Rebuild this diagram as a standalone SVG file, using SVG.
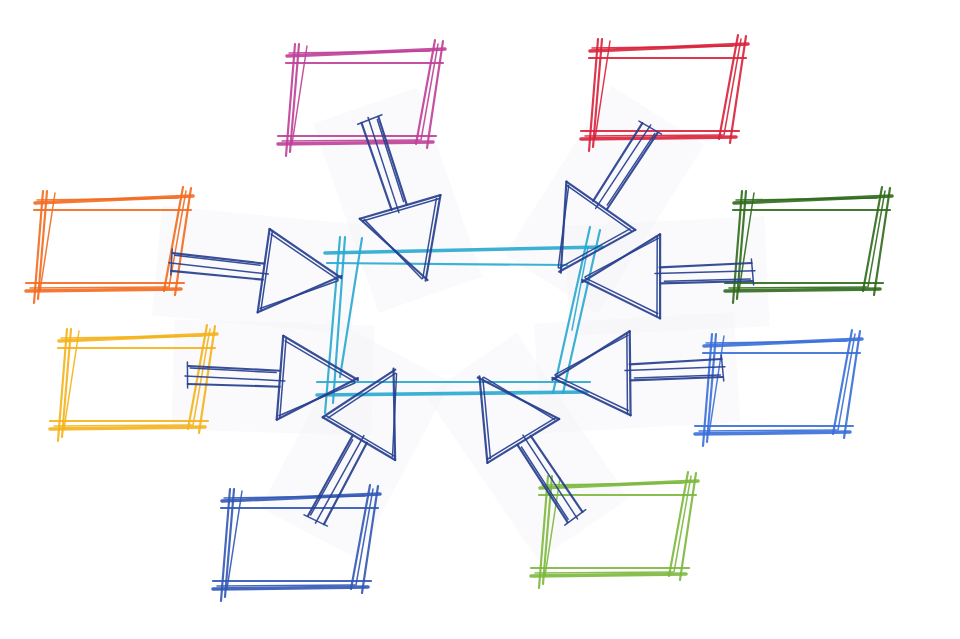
<svg xmlns="http://www.w3.org/2000/svg" xmlns:xlink="http://www.w3.org/1999/xlink" width="960" height="639" viewBox="0 0 960 639">
<style>
  .bx path { fill: none; stroke: currentColor; stroke-linecap: round; opacity: 0.9; }
  .w1 { stroke-width: 3.6; }
  .w2 { stroke-width: 2.2; }
  .w3 { stroke-width: 1.5; }
  .ar path { fill: none; stroke: #27408f; stroke-linecap: round; opacity: 0.92; }
  .patch { fill: #f3f4f8; opacity: 0.45; }
</style>
<defs>
  <g id="box" class="bx">
    <path class="w1" d="M7,16 L165,9"/>
    <path class="w3" d="M9,13 L150,11"/>
    <path class="w2" d="M6,23 L163,23"/>
    <path class="w2" d="M-2,96 L156,96"/>
    <path class="w1" d="M-2,104 L153,102"/>
    <path class="w3" d="M2,101 L140,100"/>
    <path class="w2" d="M15,4 L6,116"/>
    <path class="w2" d="M19,4 L10,112"/>
    <path class="w3" d="M27,6 L12,104"/>
    <path class="w2" d="M155,0 L136,104"/>
    <path class="w2" d="M163,1 L147,108"/>
    <path class="w3" d="M158,4 L141,100"/>
  </g>
  <g id="arrow" class="ar">
    <path class="w2" d="M0,-9 L92,-7"/>
    <path class="w3" d="M2,-7 L88,-5"/>
    <path class="w2" d="M0,9 L92,9"/>
    <path class="w3" d="M-3,1 L97,3"/>
    <path class="w3" d="M-1,-13 L0,13"/>
    <path class="w2" d="M94,-42 L90,42"/>
    <path class="w3" d="M97,-40 L93,40"/>
    <path class="w2" d="M94,-42 L170,0"/>
    <path class="w3" d="M96,-37 L167,2"/>
    <path class="w2" d="M90,42 L170,-2"/>
    <path class="w3" d="M92,38 L167,3"/>
  </g>
  <polygon id="patch" class="patch" points="-15,-55 185,-55 185,55 -15,55"/>
</defs>
<rect width="960" height="639" fill="#ffffff"/>
<g id="patches">
  <use xlink:href="#patch" transform="translate(172,262) rotate(5.4)"/>
  <use xlink:href="#patch" transform="translate(370,120) rotate(70.9)"/>
  <use xlink:href="#patch" transform="translate(650,128) rotate(122.3)"/>
  <use xlink:href="#patch" transform="translate(752,272) rotate(177.3)"/>
  <use xlink:href="#patch" transform="translate(188,375) rotate(1.7)"/>
  <use xlink:href="#patch" transform="translate(722,368) rotate(176.7)"/>
  <use xlink:href="#patch" transform="translate(316,520) rotate(-62.2)"/>
  <use xlink:href="#patch" transform="translate(575,517) rotate(-124.2)"/>
</g>
<g id="center" class="bx" style="color:#27a9cf">
  <path class="w1" d="M325,253 L602,247"/>
  <path class="w2" d="M327,263 L567,265"/>
  <path class="w2" d="M317,382 L590,382"/>
  <path class="w1" d="M317,395 L587,392"/>
  <path class="w2" d="M340,237 L325,413"/>
  <path class="w2" d="M345,237 L333,403"/>
  <path class="w2" d="M362,238 L340,377"/>
  <path class="w2" d="M590,227 L553,393"/>
  <path class="w2" d="M600,230 L563,393"/>
  <path class="w3" d="M588,247 L572,330"/>
</g>
<g id="node-pink" style="color:#bf3f97"><use xlink:href="#box" transform="translate(280,40)"/></g>
<g id="node-red" style="color:#d9213b"><use xlink:href="#box" transform="translate(583,35)"/></g>
<g id="node-orange" style="color:#f26a1f"><use xlink:href="#box" transform="translate(28,187)"/></g>
<g id="node-darkgreen" style="color:#2f6a1b"><use xlink:href="#box" transform="translate(727,187)"/></g>
<g id="node-yellow" style="color:#f4b21a"><use xlink:href="#box" transform="translate(52,325)"/></g>
<g id="node-blue" style="color:#3a6fd8"><use xlink:href="#box" transform="translate(697,330)"/></g>
<g id="node-navy" style="color:#3158b5"><use xlink:href="#box" transform="translate(215,485)"/></g>
<g id="node-lightgreen" style="color:#7bb83c"><use xlink:href="#box" transform="translate(533,472)"/></g>
<g id="connectors">
  <use xlink:href="#arrow" transform="translate(172,262) rotate(5.4)"/>
  <use xlink:href="#arrow" transform="translate(370,120) rotate(70.9)"/>
  <use xlink:href="#arrow" transform="translate(650,128) rotate(122.3)"/>
  <use xlink:href="#arrow" transform="translate(752,272) rotate(177.3)"/>
  <use xlink:href="#arrow" transform="translate(188,375) rotate(1.7)"/>
  <use xlink:href="#arrow" transform="translate(722,368) rotate(176.7)"/>
  <use xlink:href="#arrow" transform="translate(316,520) rotate(-62.2)"/>
  <use xlink:href="#arrow" transform="translate(575,517) rotate(-124.2)"/>
</g>
</svg>
